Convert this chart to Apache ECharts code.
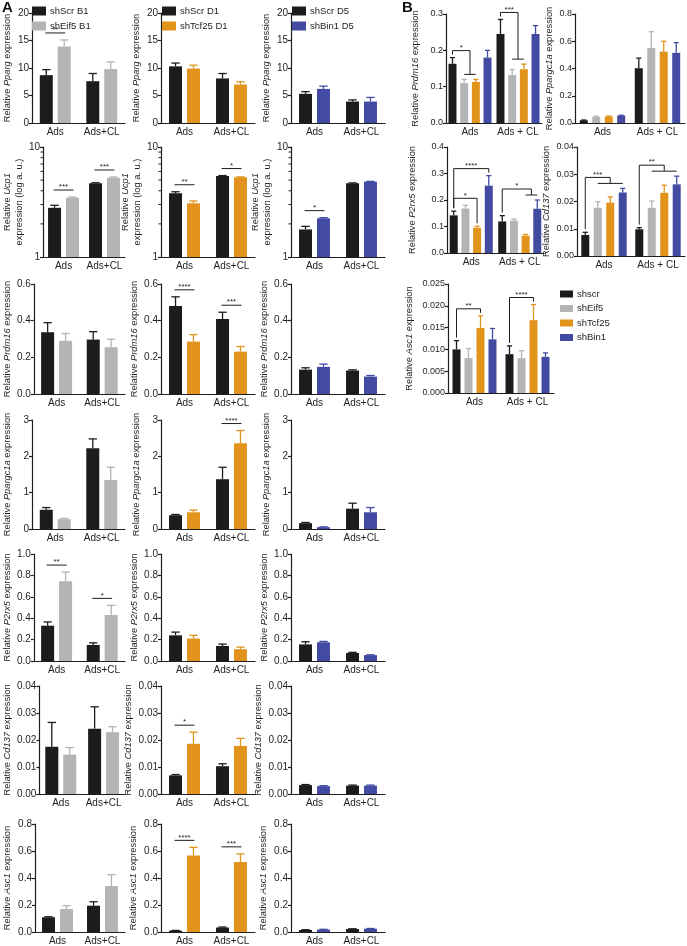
<!DOCTYPE html>
<html><head><meta charset="utf-8">
<script src="https://cdn.jsdelivr.net/npm/echarts@6/dist/echarts.min.js"></script>
<style>html,body{margin:0;padding:0;background:#fff}#c{width:687px;height:946px}</style>
</head><body><div id="c"></div>
<script>
// ---------- categories / names ----------
const catsA = ['Ads', 'Ads+CL'];
const catsB = ['Ads', 'Ads + CL'];
const namesEif5 = ['shScr B1', 'shEif5 B1'];
const namesTcf25 = ['shScr D1', 'shTcf25 D1'];
const namesBin1 = ['shScr D5', 'shBin1 D5'];
const namesB = ['shscr', 'shEif5', 'shTcf25', 'shBin1'];

// ---------- tick labels ----------
const ppargTicks = ['0', '5', '10', '15', '20'];
const ucp1Ticks = ['1', '10'];
const ucp1MinorTicks = [2, 3, 4, 5, 6, 7, 8, 9];
const prdm16TicksA = ['0.0', '0.2', '0.4', '0.6'];
const ppargc1aTicksA = ['0', '1', '2', '3'];
const p2rx5TicksA = ['0.0', '0.2', '0.4', '0.6', '0.8', '1.0'];
const cd137Ticks = ['0.00', '0.01', '0.02', '0.03', '0.04'];
const asc1TicksA = ['0.0', '0.2', '0.4', '0.6', '0.8'];
const prdm16TicksB = ['0.0', '0.1', '0.2', '0.3'];
const ppargc1aTicksB = ['0.0', '0.2', '0.4', '0.6', '0.8'];
const p2rx5TicksB = ['0.0', '0.1', '0.2', '0.3', '0.4'];
const asc1TicksB = ['0.000', '0.005', '0.010', '0.015', '0.020', '0.025'];

// ---------- Section A data: [Eif5 panel, Tcf25 panel, Bin1 panel], each [Ads, Ads+CL] ----------
const ppargScr = [[8.7, 7.6], [10.3, 8.1], [5.3, 3.9]];
const ppargScrSem = [[1.0, 1.4], [0.6, 0.9], [0.4, 0.3]];
const ppargKd = [[13.9, 9.8], [9.9, 7.0], [6.2, 3.9]];
const ppargKdSem = [[1.2, 1.3], [0.6, 0.5], [0.5, 0.75]];

const ucp1Scr = [[2.8, 4.68], [3.8, 5.45], [1.78, 4.68]];
const ucp1ScrSem = [[0.15, 0.05], [0.12, 0.05], [0.12, 0.04]];
const ucp1Kd = [[3.46, 5.26], [3.08, 5.3], [2.25, 4.84]];
const ucp1KdSem = [[0.05, 0.08], [0.15, 0.05], [0.03, 0.03]];

const prdm16Scr = [[0.337, 0.297], [0.48, 0.409], [0.133, 0.128]];
const prdm16ScrSem = [[0.052, 0.043], [0.05, 0.037], [0.01, 0.004]];
const prdm16Kd = [[0.29, 0.255], [0.286, 0.231], [0.148, 0.095]];
const prdm16KdSem = [[0.04, 0.044], [0.038, 0.028], [0.015, 0.006]];

const ppargc1aScr = [[0.53, 2.22], [0.38, 1.37], [0.16, 0.56]];
const ppargc1aScrSem = [[0.06, 0.26], [0.02, 0.33], [0.02, 0.15]];
const ppargc1aKd = [[0.27, 1.35], [0.46, 2.36], [0.05, 0.46]];
const ppargc1aKdSem = [[0.02, 0.35], [0.06, 0.35], [0.01, 0.13]];

const p2rx5Scr = [[0.33, 0.15], [0.24, 0.14], [0.155, 0.075]];
const p2rx5ScrSem = [[0.035, 0.02], [0.03, 0.018], [0.025, 0.006]];
const p2rx5Kd = [[0.746, 0.43], [0.21, 0.11], [0.175, 0.055]];
const p2rx5KdSem = [[0.085, 0.09], [0.03, 0.02], [0.008, 0.003]];

const cd137Scr = [[0.0175, 0.0242], [0.0069, 0.0103], [0.0033, 0.0031]];
const cd137ScrSem = [[0.009, 0.0081], [0.0003, 0.0009], [0.0002, 0.0002]];
const cd137Kd = [[0.0146, 0.0229], [0.0186, 0.0178], [0.0029, 0.0031]];
const cd137KdSem = [[0.0026, 0.002], [0.0043, 0.0028], [0.0002, 0.0002]];

const asc1Scr = [[0.109, 0.195], [0.01, 0.033], [0.015, 0.022]];
const asc1ScrSem = [[0.004, 0.029], [0.002, 0.004], [0.002, 0.002]];
const asc1Kd = [[0.17, 0.34], [0.567, 0.518], [0.018, 0.024]];
const asc1KdSem = [[0.025, 0.085], [0.06, 0.061], [0.002, 0.002]];

// significance in section A: [panel column, group, label]
const ppargSig = [[0, 0, '**']];
const ucp1Sig = [[0, 0, '***'], [0, 1, '***'], [1, 0, '**'], [1, 1, '*'], [2, 0, '*']];
const prdm16Sig = [[1, 0, '****'], [1, 1, '***']];
const ppargc1aSig = [[1, 1, '****']];
const p2rx5Sig = [[0, 0, '**'], [0, 1, '*']];
const cd137Sig = [[1, 0, '*']];
const asc1Sig = [[1, 0, '****'], [1, 1, '***']];

// ---------- Section B data: [shscr, shEif5, shTcf25, shBin1], each [Ads, Ads + CL] ----------
const bPrdm16 = [[0.163, 0.245], [0.11, 0.132], [0.113, 0.148], [0.18, 0.245]];
const bPrdm16Sem = [[0.017, 0.04], [0.01, 0.015], [0.007, 0.014], [0.02, 0.023]];
const bPpargc1a = [[0.02, 0.402], [0.045, 0.55], [0.048, 0.524], [0.055, 0.515]];
const bPpargc1aSem = [[0.002, 0.074], [0.005, 0.12], [0.003, 0.076], [0.002, 0.075]];
const bP2rx5 = [[0.142, 0.119], [0.168, 0.122], [0.095, 0.065], [0.254, 0.167]];
const bP2rx5Sem = [[0.016, 0.022], [0.012, 0.006], [0.006, 0.005], [0.038, 0.033]];
const bCd137 = [[0.0077, 0.0098], [0.0177, 0.0177], [0.0196, 0.0232], [0.0233, 0.0263]];
const bCd137Sem = [[0.001, 0.0006], [0.0022, 0.0025], [0.0021, 0.0028], [0.0015, 0.003]];
const bAsc1 = [[0.010, 0.0089], [0.008, 0.008], [0.0149, 0.0167], [0.0123, 0.0083]];
const bAsc1Sem = [[0.002, 0.0019], [0.0022, 0.0017], [0.0028, 0.0036], [0.0025, 0.0009]];

// significance in section B: [group, reference bar, target bars, label]
const bPrdm16Sig = [[0, 0, [1, 2], '*'], [1, 0, [1, 2], '***']];
const bPpargc1aSig = [];
const bP2rx5Sig = [[0, 0, [2], '*'], [0, 0, [3], '****'], [1, 0, [2, 3], '*']];
const bCd137Sig = [[0, 0, [1, 2, 3], '***'], [1, 0, [1, 2, 3], '**']];
const bAsc1Sig = [[0, 0, [2], '**'], [1, 0, [2], '****']];

// ---------- drawing ----------
const FONT = 'Liberation Sans, Arial, sans-serif';
const INK = '#1e1e1e';
const C_SCR = '#1c1c1c', C_EIF5 = '#b4b4b6', C_TCF25 = '#e1931b', C_BIN1 = '#434aa2';

const option = {
  animation: false, backgroundColor: '#fff',
  grid: [], xAxis: [], yAxis: [], series: [], legend: [], graphic: []
};

function labelFor(ticks) {
  const nums = ticks.map(Number);
  return v => {
    let b = 0;
    for (let i = 1; i < nums.length; i++) if (Math.abs(nums[i] - v) < Math.abs(nums[b] - v)) b = i;
    return ticks[b];
  };
}

function barX(api, g, k, n, bw, gap, v) {
  const c = api.coord([g, v])[0];
  const total = n * bw + (n - 1) * bw * gap;
  return c - total / 2 + k * bw * (1 + gap) + bw / 2;
}

function titleRich(gene, twoLine) {
  if (twoLine) return '{n|Relative }{i|' + gene + '}\n{n|expression (log a. u.)}';
  return '{n|Relative }{i|' + gene + '}{n| expression}';
}

function addPanel(p) {
  const gi = option.grid.length;
  const n = p.means.length;
  option.grid.push({ left: p.left, top: p.top, width: p.width, height: p.height });
  option.xAxis.push({
    type: 'category', gridIndex: gi, data: p.cats,
    axisLine: { lineStyle: { color: INK, width: 1.2 } },
    axisTick: { alignWithLabel: true, length: 3, lineStyle: { color: INK, width: 1.2 } },
    axisLabel: { fontSize: 10, color: INK, margin: 4, fontFamily: FONT, interval: 0 }
  });
  const nums = p.ticks.map(Number);
  const y = {
    gridIndex: gi, min: nums[0], max: nums[nums.length - 1],
    axisLine: { show: true, lineStyle: { color: INK, width: 1.2 } },
    axisTick: { show: true, length: 3, lineStyle: { color: INK, width: 1.2 } },
    splitLine: { show: false },
    axisLabel: { fontSize: p.tickFont, color: INK, margin: 3, fontFamily: FONT, formatter: labelFor(p.ticks), showMinLabel: true, showMaxLabel: true },
    name: titleRich(p.gene, p.log), nameLocation: 'middle', nameGap: p.nameGap, nameRotate: 90,
    nameTextStyle: {
      color: INK, fontFamily: FONT, fontSize: 9, lineHeight: 12,
      rich: {
        n: { fontSize: 9.3, fontFamily: FONT, color: INK, lineHeight: 12 },
        i: { fontSize: 9.3, fontFamily: FONT, color: INK, fontStyle: 'italic', lineHeight: 12 }
      }
    }
  };
  if (p.log) { y.type = 'log'; y.logBase = 10; } else { y.type = 'value'; y.interval = nums[1] - nums[0]; }
  option.yAxis.push(y);

  const tops = p.means.map((m, k) => m.map((v, g) => v + p.sems[k][g]));

  p.means.forEach((m, k) => {
    option.series.push({
      type: 'bar', name: p.names[k], xAxisIndex: gi, yAxisIndex: gi, data: m,
      barWidth: p.bw, barGap: (p.gap * 100) + '%', silent: true,
      itemStyle: { color: p.colors[k] }
    });
  });
  p.means.forEach((m, k) => {
    const col = p.colors[k];
    option.series.push({
      type: 'custom', xAxisIndex: gi, yAxisIndex: gi, silent: true, z: 3,
      data: m.map((v, g) => [g, v, p.sems[k][g]]), encode: { x: 0, y: 1 },
      renderItem: (params, api) => {
        const g = api.value(0), v = api.value(1), s = api.value(2);
        const x = barX(api, g, k, n, p.bw, p.gap, v);
        const yb = api.coord([g, v])[1], yt = api.coord([g, v + s])[1];
        const cap = p.bw * 0.32;
        return { type: 'group', children: [
          { type: 'line', shape: { x1: x, y1: yb, x2: x, y2: yt }, style: { stroke: col, lineWidth: 1.3 } },
          { type: 'line', shape: { x1: x - cap, y1: yt, x2: x + cap, y2: yt }, style: { stroke: col, lineWidth: 1.3 } }
        ] };
      }
    });
  });

  if (p.log) {
    option.series.push({
      type: 'custom', xAxisIndex: gi, yAxisIndex: gi, silent: true,
      data: ucp1MinorTicks.map(v => [0, v]), encode: { x: 0, y: 1 },
      renderItem: (params, api) => {
        const c = api.coord([0, api.value(1)]);
        const x0 = c[0] - api.size([1, 0])[0] / 2;
        return { type: 'line', shape: { x1: x0 - 2.5, y1: c[1], x2: x0, y2: c[1] }, style: { stroke: INK, lineWidth: 1 } };
      }
    });
  }

  if (p.sigA && p.sigA.length) {
    option.series.push({
      type: 'custom', xAxisIndex: gi, yAxisIndex: gi, silent: true, z: 4,
      data: p.sigA.map(s => [s[0], Math.max(tops[0][s[0]], tops[1][s[0]])]), encode: { x: 0, y: 1 },
      renderItem: (params, api) => {
        const g = api.value(0), t = api.value(1);
        const x1 = barX(api, g, 0, 2, p.bw, p.gap, t) - 1;
        const x2 = barX(api, g, 1, 2, p.bw, p.gap, t) + 1;
        const yy = api.coord([g, t])[1] - 7;
        return { type: 'group', children: [
          { type: 'line', shape: { x1: x1, y1: yy, x2: x2, y2: yy }, style: { stroke: INK, lineWidth: 1 } },
          { type: 'text', x: (x1 + x2) / 2, y: yy + 1, style: { text: p.sigA[params.dataIndex][1], fill: INK, font: '8px ' + FONT, align: 'center', verticalAlign: 'bottom' } }
        ] };
      }
    });
  }

  if (p.sigB && p.sigB.length) {
    option.series.push({
      type: 'custom', xAxisIndex: gi, yAxisIndex: gi, silent: true, z: 4,
      data: p.sigB.map(s => [s[0], tops[s[1]][s[0]]]), encode: { x: 0, y: 1 },
      renderItem: (params, api) => {
        const px = (g, k) => barX(api, g, k, n, p.bw, p.gap, tops[k][g]);
        const py = (g, k) => api.coord([g, tops[k][g]])[1];
        function level(s) {
          const g = s[0], ref = s[1], tg = s[2], last = tg[tg.length - 1];
          let spanTop = Infinity;
          for (let k = ref; k <= last; k++) spanTop = Math.min(spanTop, py(g, k));
          let L, L2 = null;
          if (tg.length === 1) L = spanTop - 7;
          else {
            let tTop = Infinity;
            tg.forEach(k => { tTop = Math.min(tTop, py(g, k)); });
            L2 = tTop - 5;
            L = Math.min(L2 - 6, spanTop - 7);
          }
          p.sigB.forEach(o => {
            if (o !== s && o[0] === g && o[1] >= ref && o[2][o[2].length - 1] < last) L = Math.min(L, level(o).L - 10);
          });
          return { L: L, L2: L2 };
        }
        const s = p.sigB[params.dataIndex];
        const g = s[0], ref = s[1], tg = s[2], label = s[3];
        const last = tg[tg.length - 1];
        const lv = level(s), L = lv.L;
        const xr = px(g, ref), yr = py(g, ref) - 3;
        const ch = [];
        let xm;
        if (tg.length === 1) {
          const xt = px(g, last);
          ch.push({ type: 'polyline', shape: { points: [[xr, yr], [xr, L], [xt, L], [xt, py(g, last) - 3]] }, style: { stroke: INK, lineWidth: 1, fill: null } });
          xm = (xr + xt) / 2;
        } else {
          const xa = px(g, tg[0]), xb = px(g, last), mid = (xa + xb) / 2;
          ch.push({ type: 'polyline', shape: { points: [[xr, yr], [xr, L], [mid, L], [mid, lv.L2]] }, style: { stroke: INK, lineWidth: 1, fill: null } });
          ch.push({ type: 'line', shape: { x1: xa, y1: lv.L2, x2: xb, y2: lv.L2 }, style: { stroke: INK, lineWidth: 1 } });
          xm = (xr + mid) / 2;
        }
        ch.push({ type: 'text', x: xm, y: L + 1, style: { text: label, fill: INK, font: '8px ' + FONT, align: 'center', verticalAlign: 'bottom' } });
        return { type: 'group', children: ch };
      }
    });
  }
}

// ---------- Section A layout ----------
const colLeft = [31, 161, 291];
const colNames = [namesEif5, namesTcf25, namesBin1];
const colColors = [[C_SCR, C_EIF5], [C_SCR, C_TCF25], [C_SCR, C_BIN1]];
const rowsA = [
  { gene: 'Pparg', ticks: ppargTicks, scr: ppargScr, scrSem: ppargScrSem, kd: ppargKd, kdSem: ppargKdSem, sig: ppargSig, top: 13, h: 110, gap: 19 },
  { gene: 'Ucp1', ticks: ucp1Ticks, log: true, scr: ucp1Scr, scrSem: ucp1ScrSem, kd: ucp1Kd, kdSem: ucp1KdSem, sig: ucp1Sig, top: 147, h: 110, gap: 8 },
  { gene: 'Prdm16', ticks: prdm16TicksA, scr: prdm16Scr, scrSem: prdm16ScrSem, kd: prdm16Kd, kdSem: prdm16KdSem, sig: prdm16Sig, top: 284, h: 110, gap: 19 },
  { gene: 'Ppargc1a', ticks: ppargc1aTicksA, scr: ppargc1aScr, scrSem: ppargc1aScrSem, kd: ppargc1aKd, kdSem: ppargc1aKdSem, sig: ppargc1aSig, top: 420, h: 109, gap: 19 },
  { gene: 'P2rx5', ticks: p2rx5TicksA, scr: p2rx5Scr, scrSem: p2rx5ScrSem, kd: p2rx5Kd, kdSem: p2rx5KdSem, sig: p2rx5Sig, top: 554, h: 107, gap: 19 },
  { gene: 'Cd137', ticks: cd137Ticks, scr: cd137Scr, scrSem: cd137ScrSem, kd: cd137Kd, kdSem: cd137KdSem, sig: cd137Sig, top: 686, h: 108, gap: 23 },
  { gene: 'Asc1', ticks: asc1TicksA, scr: asc1Scr, scrSem: asc1ScrSem, kd: asc1Kd, kdSem: asc1KdSem, sig: asc1Sig, top: 824, h: 109, gap: 22 }
];
rowsA.forEach(r => {
  for (let c = 0; c < 3; c++) {
    addPanel({
      left: colLeft[c], top: r.top, width: 94, height: r.h, cats: catsA,
      gene: r.gene, log: r.log, ticks: r.ticks, nameGap: r.gap, tickFont: 10,
      names: colNames[c], colors: colColors[c],
      means: [r.scr[c], r.kd[c]], sems: [r.scrSem[c], r.kdSem[c]],
      bw: 13, gap: 0.38,
      sigA: r.sig.filter(s => s[0] === c).map(s => [s[1], s[2]])
    });
  }
});

// ---------- Section B layout ----------
const colorsB = [C_SCR, C_EIF5, C_TCF25, C_BIN1];
const panelsB = [
  { gene: 'Prdm16', ticks: prdm16TicksB, means: bPrdm16, sems: bPrdm16Sem, sig: bPrdm16Sig, left: 446, top: 14, w: 96, h: 109, gap: 25, bg: 0.46 },
  { gene: 'Ppargc1a', ticks: ppargc1aTicksB, means: bPpargc1a, sems: bPpargc1aSem, sig: bPpargc1aSig, left: 575, top: 14, w: 110, h: 109, gap: 15, bg: 0.56 },
  { gene: 'P2rx5', ticks: p2rx5TicksB, means: bP2rx5, sems: bP2rx5Sem, sig: bP2rx5Sig, left: 447, top: 147, w: 97, h: 106, gap: 29, bg: 0.46 },
  { gene: 'Cd137', ticks: cd137Ticks, means: bCd137, sems: bCd137Sem, sig: bCd137Sig, left: 577, top: 147, w: 108, h: 109, gap: 20, bg: 0.56 },
  { gene: 'Asc1', ticks: asc1TicksB, means: bAsc1, sems: bAsc1Sem, sig: bAsc1Sig, left: 448, top: 284, w: 106, h: 109, gap: 33, bg: 0.5 }
];
panelsB.forEach(b => {
  addPanel({
    left: b.left, top: b.top, width: b.w, height: b.h, cats: catsB,
    gene: b.gene, ticks: b.ticks, nameGap: b.gap, tickFont: 9,
    names: namesB, colors: colorsB, means: b.means, sems: b.sems,
    bw: 8, gap: b.bg, sigB: b.sig
  });
});

// ---------- legends ----------
const legendBase = { orient: 'vertical', icon: 'rect', itemWidth: 14, itemHeight: 9, itemGap: 5, padding: 0, selectedMode: false,
  textStyle: { fontSize: 9.5, color: INK, fontFamily: FONT, padding: [0, 0, 0, -1] } };
option.legend.push(Object.assign({}, legendBase, { data: namesEif5, left: 32, top: 6 }));
option.legend.push(Object.assign({}, legendBase, { data: namesTcf25, left: 162, top: 6 }));
option.legend.push(Object.assign({}, legendBase, { data: namesBin1, left: 292, top: 6 }));
option.legend.push(Object.assign({}, legendBase, { data: namesB, left: 560, top: 289, itemWidth: 13, itemHeight: 7, itemGap: 4.5 }));

// ---------- panel letters ----------
option.graphic = [
  { type: 'text', left: 2, top: 0, style: { text: 'A', font: 'bold 15px ' + FONT, fill: '#111' } },
  { type: 'text', left: 402, top: 0, style: { text: 'B', font: 'bold 15px ' + FONT, fill: '#111' } }
];

const chart = echarts.init(document.getElementById('c'), null, { renderer: 'canvas', width: 687, height: 946 });
chart.setOption(option);
</script>
</body></html>
